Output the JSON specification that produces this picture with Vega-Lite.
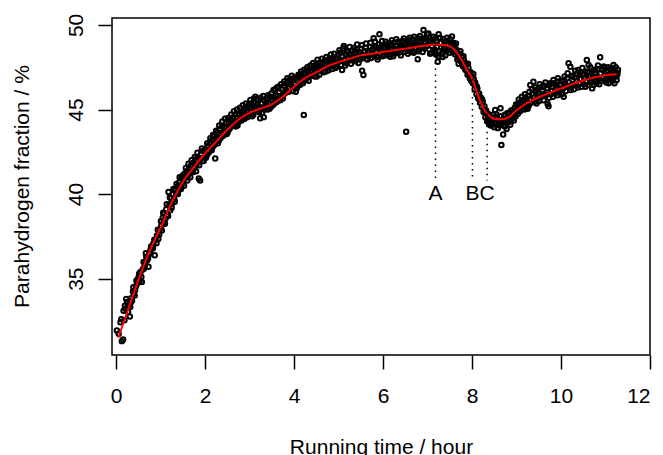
{
  "$schema": "https://vega.github.io/schema/vega-lite/v6.json",
  "width": 538,
  "height": 337,
  "autosize": {"type": "none"},
  "padding": {"left": 112, "top": 18, "right": 13, "bottom": 100},
  "background": "white",
  "datasets": {
    "pts": [
      {"t":0.02,"p":31.94},{"t":0.06,"p":31.75},{"t":0.10,"p":32.43},{"t":0.13,"p":31.31},{"t":0.16,"p":31.41},
      {"t":0.17,"p":33.10},{"t":0.19,"p":32.55},{"t":0.21,"p":33.23},{"t":0.23,"p":33.80},{"t":0.25,"p":33.62},
      {"t":0.27,"p":33.05},{"t":0.29,"p":33.45},{"t":0.31,"p":32.77},{"t":0.32,"p":33.32},{"t":0.34,"p":33.85},
      {"t":0.36,"p":33.70},{"t":0.38,"p":34.25},{"t":0.40,"p":34.11},{"t":0.43,"p":34.31},{"t":0.45,"p":34.55},
      {"t":0.47,"p":34.70},{"t":0.49,"p":34.95},{"t":0.51,"p":35.10},{"t":0.53,"p":34.85},{"t":0.55,"p":35.40},
      {"t":0.58,"p":34.80},{"t":0.60,"p":35.55},{"t":0.62,"p":35.99},{"t":0.64,"p":35.70},{"t":0.66,"p":35.95},
      {"t":0.68,"p":36.30},{"t":0.70,"p":36.09},{"t":0.73,"p":35.70},{"t":0.75,"p":36.55},{"t":0.77,"p":36.48},
      {"t":0.79,"p":36.90},{"t":0.81,"p":36.78},{"t":0.84,"p":37.07},{"t":0.87,"p":36.38},{"t":0.89,"p":37.30},
      {"t":0.92,"p":37.55},{"t":0.95,"p":37.35},{"t":0.98,"p":37.90},
      {"t":0.12,"p":32.6},{"t":0.20,"p":33.4},{"t":0.26,"p":33.3},{"t":0.33,"p":33.6},{"t":0.39,"p":34.5},
      {"t":0.42,"p":34.0},{"t":0.46,"p":34.9},{"t":0.52,"p":35.3},{"t":0.57,"p":35.1},{"t":0.63,"p":35.6},
      {"t":0.67,"p":36.5},{"t":0.72,"p":36.2},{"t":0.78,"p":36.75},{"t":0.83,"p":36.8},{"t":0.86,"p":37.3},
      {"t":0.91,"p":37.1},{"t":0.94,"p":37.9},{"t":0.97,"p":37.6},
      {"t":1.01,"p":38.40},{"t":1.03,"p":37.85},{"t":1.05,"p":38.60},{"t":1.07,"p":38.35},{"t":1.09,"p":38.85},
      {"t":1.11,"p":38.55},{"t":1.13,"p":39.10},{"t":1.15,"p":38.80},{"t":1.18,"p":40.13},{"t":1.20,"p":39.40},
      {"t":1.22,"p":39.05},{"t":1.24,"p":39.75},{"t":1.26,"p":39.45},{"t":1.28,"p":40.00},{"t":1.31,"p":39.70},
      {"t":1.33,"p":40.25},{"t":1.35,"p":40.05},{"t":1.38,"p":40.45},{"t":1.40,"p":40.20},{"t":1.42,"p":40.70},
      {"t":1.44,"p":40.40},{"t":1.47,"p":40.95},{"t":1.49,"p":40.60},{"t":1.51,"p":40.85},{"t":1.54,"p":41.20},
      {"t":1.56,"p":40.95},{"t":1.59,"p":41.35},{"t":1.61,"p":41.05},{"t":1.64,"p":41.50},{"t":1.66,"p":41.25},
      {"t":1.69,"p":41.70},{"t":1.71,"p":41.40},{"t":1.74,"p":41.85},{"t":1.76,"p":41.55},{"t":1.79,"p":42.05},
      {"t":1.81,"p":41.75},{"t":1.84,"p":42.20},{"t":1.86,"p":40.92},{"t":1.89,"p":40.80},{"t":1.91,"p":42.35},
      {"t":1.94,"p":41.95},{"t":1.96,"p":42.55},{"t":1.99,"p":42.20},
      {"t":1.02,"p":38.15},{"t":1.06,"p":38.9},{"t":1.10,"p":38.25},{"t":1.14,"p":39.4},{"t":1.17,"p":38.7},
      {"t":1.21,"p":39.8},{"t":1.25,"p":39.2},{"t":1.29,"p":40.3},{"t":1.32,"p":39.55},{"t":1.36,"p":40.6},
      {"t":1.39,"p":40.0},{"t":1.43,"p":41.0},{"t":1.46,"p":40.3},{"t":1.50,"p":41.1},{"t":1.53,"p":40.5},
      {"t":1.57,"p":41.55},{"t":1.60,"p":40.8},{"t":1.63,"p":41.8},{"t":1.67,"p":41.0},{"t":1.70,"p":42.0},
      {"t":1.73,"p":41.3},{"t":1.77,"p":42.2},{"t":1.80,"p":41.35},{"t":1.83,"p":42.45},{"t":1.87,"p":41.7},
      {"t":1.90,"p":42.1},{"t":1.93,"p":42.7},{"t":1.97,"p":41.95},
      {"t":2.01,"p":42.65},{"t":2.04,"p":42.30},{"t":2.06,"p":42.85},{"t":2.09,"p":42.55},{"t":2.11,"p":43.05},
      {"t":2.14,"p":42.70},{"t":2.16,"p":43.20},{"t":2.19,"p":42.85},{"t":2.21,"p":43.40},{"t":2.23,"p":42.10},
      {"t":2.26,"p":43.30},{"t":2.28,"p":43.65},{"t":2.31,"p":43.15},{"t":2.33,"p":43.85},{"t":2.36,"p":43.50},
      {"t":2.38,"p":44.00},{"t":2.41,"p":43.45},{"t":2.43,"p":43.95},{"t":2.46,"p":43.70},{"t":2.48,"p":44.20},
      {"t":2.51,"p":43.65},{"t":2.53,"p":44.25},{"t":2.56,"p":43.95},{"t":2.58,"p":44.40},{"t":2.61,"p":44.05},
      {"t":2.63,"p":44.55},{"t":2.66,"p":44.15},{"t":2.68,"p":44.70},{"t":2.71,"p":44.30},{"t":2.73,"p":44.05},
      {"t":2.76,"p":44.75},{"t":2.78,"p":44.40},{"t":2.81,"p":44.85},{"t":2.83,"p":44.50},{"t":2.86,"p":44.95},
      {"t":2.88,"p":44.60},{"t":2.91,"p":45.05},{"t":2.93,"p":44.70},{"t":2.96,"p":45.15},{"t":2.98,"p":44.65},
      {"t":2.02,"p":42.15},{"t":2.05,"p":43.0},{"t":2.08,"p":42.45},{"t":2.12,"p":43.3},{"t":2.15,"p":42.6},
      {"t":2.18,"p":43.5},{"t":2.22,"p":42.95},{"t":2.25,"p":43.75},{"t":2.29,"p":43.0},{"t":2.32,"p":44.05},
      {"t":2.35,"p":43.3},{"t":2.39,"p":44.3},{"t":2.42,"p":43.6},{"t":2.45,"p":44.45},{"t":2.49,"p":43.55},
      {"t":2.52,"p":44.5},{"t":2.55,"p":43.85},{"t":2.59,"p":44.7},{"t":2.62,"p":44.2},{"t":2.65,"p":44.9},
      {"t":2.69,"p":44.0},{"t":2.72,"p":45.0},{"t":2.75,"p":44.25},{"t":2.79,"p":45.1},{"t":2.82,"p":44.35},
      {"t":2.85,"p":45.25},{"t":2.89,"p":44.45},{"t":2.92,"p":45.35},{"t":2.95,"p":44.55},{"t":2.99,"p":45.3},
      {"t":3.01,"p":45.10},{"t":3.02,"p":45.56},{"t":3.04,"p":44.85},{"t":3.07,"p":45.25},{"t":3.09,"p":44.70},
      {"t":3.11,"p":45.40},{"t":3.13,"p":45.76},{"t":3.15,"p":44.95},{"t":3.18,"p":45.30},{"t":3.20,"p":45.55},
      {"t":3.22,"p":44.85},{"t":3.24,"p":44.48},{"t":3.27,"p":45.35},{"t":3.29,"p":45.10},{"t":3.32,"p":44.55},
      {"t":3.34,"p":45.50},{"t":3.36,"p":45.20},{"t":3.39,"p":45.65},{"t":3.41,"p":45.00},{"t":3.44,"p":45.40},
      {"t":3.46,"p":45.75},{"t":3.48,"p":45.15},{"t":3.51,"p":45.55},{"t":3.54,"p":46.15},{"t":3.56,"p":45.35},
      {"t":3.59,"p":45.80},{"t":3.62,"p":46.31},{"t":3.64,"p":45.60},{"t":3.67,"p":46.05},{"t":3.69,"p":45.55},
      {"t":3.72,"p":46.20},{"t":3.74,"p":45.80},{"t":3.77,"p":46.40},{"t":3.79,"p":45.95},{"t":3.82,"p":46.55},
      {"t":3.84,"p":46.10},{"t":3.87,"p":46.70},{"t":3.89,"p":46.25},{"t":3.92,"p":46.80},{"t":3.94,"p":46.45},
      {"t":3.97,"p":46.10},{"t":3.99,"p":46.85},
      {"t":3.03,"p":45.35},{"t":3.06,"p":44.6},{"t":3.10,"p":45.65},{"t":3.14,"p":45.05},{"t":3.17,"p":45.6},
      {"t":3.21,"p":45.15},{"t":3.25,"p":45.7},{"t":3.28,"p":44.8},{"t":3.31,"p":45.8},{"t":3.35,"p":45.0},
      {"t":3.38,"p":45.35},{"t":3.42,"p":45.85},{"t":3.45,"p":45.05},{"t":3.49,"p":45.95},{"t":3.52,"p":45.25},
      {"t":3.55,"p":45.7},{"t":3.58,"p":46.2},{"t":3.61,"p":45.45},{"t":3.65,"p":46.35},{"t":3.68,"p":45.75},
      {"t":3.71,"p":46.5},{"t":3.75,"p":45.65},{"t":3.78,"p":46.65},{"t":3.81,"p":46.0},{"t":3.85,"p":46.85},
      {"t":3.88,"p":46.05},{"t":3.91,"p":46.6},{"t":3.95,"p":47.0},{"t":3.98,"p":46.3},
      {"t":4.02,"p":46.50},{"t":4.04,"p":46.05},{"t":4.07,"p":46.90},{"t":4.09,"p":46.40},{"t":4.12,"p":46.95},
      {"t":4.14,"p":46.55},{"t":4.17,"p":47.10},{"t":4.19,"p":46.70},{"t":4.22,"p":44.67},{"t":4.24,"p":47.15},
      {"t":4.26,"p":46.75},{"t":4.29,"p":47.30},{"t":4.31,"p":46.90},{"t":4.34,"p":47.40},{"t":4.36,"p":47.05},
      {"t":4.39,"p":47.55},{"t":4.41,"p":47.00},{"t":4.44,"p":47.45},{"t":4.46,"p":47.20},{"t":4.49,"p":47.65},
      {"t":4.51,"p":46.95},{"t":4.54,"p":47.60},{"t":4.56,"p":47.30},{"t":4.59,"p":47.80},{"t":4.61,"p":47.35},
      {"t":4.64,"p":47.70},{"t":4.66,"p":47.45},{"t":4.69,"p":47.90},{"t":4.71,"p":47.25},{"t":4.74,"p":47.85},
      {"t":4.76,"p":47.50},{"t":4.79,"p":48.00},{"t":4.81,"p":47.55},{"t":4.84,"p":47.95},{"t":4.86,"p":47.40},
      {"t":4.89,"p":48.10},{"t":4.91,"p":47.70},{"t":4.94,"p":48.05},{"t":4.96,"p":47.55},{"t":4.99,"p":48.20},
      {"t":4.03,"p":46.85},{"t":4.06,"p":46.25},{"t":4.10,"p":47.05},{"t":4.13,"p":46.45},{"t":4.16,"p":47.25},
      {"t":4.20,"p":46.55},{"t":4.23,"p":47.35},{"t":4.27,"p":46.95},{"t":4.30,"p":47.5},{"t":4.33,"p":46.7},
      {"t":4.37,"p":47.6},{"t":4.40,"p":47.25},{"t":4.43,"p":47.75},{"t":4.47,"p":46.95},{"t":4.50,"p":47.5},
      {"t":4.53,"p":47.95},{"t":4.57,"p":47.05},{"t":4.60,"p":47.55},{"t":4.63,"p":48.0},{"t":4.67,"p":47.2},
      {"t":4.70,"p":47.65},{"t":4.73,"p":48.1},{"t":4.77,"p":47.3},{"t":4.80,"p":47.8},{"t":4.83,"p":48.25},
      {"t":4.87,"p":47.6},{"t":4.90,"p":48.3},{"t":4.93,"p":47.45},{"t":4.97,"p":48.0},
      {"t":5.01,"p":47.85},{"t":5.04,"p":48.35},{"t":5.06,"p":47.65},{"t":5.08,"p":47.34},{"t":5.11,"p":48.62},
      {"t":5.13,"p":47.95},{"t":5.16,"p":48.25},{"t":5.18,"p":47.75},{"t":5.21,"p":48.40},{"t":5.23,"p":47.90},
      {"t":5.26,"p":48.30},{"t":5.28,"p":47.70},{"t":5.31,"p":48.50},{"t":5.33,"p":48.05},{"t":5.36,"p":48.35},
      {"t":5.38,"p":47.85},{"t":5.41,"p":48.55},{"t":5.43,"p":48.10},{"t":5.46,"p":48.40},{"t":5.48,"p":47.95},
      {"t":5.51,"p":48.60},{"t":5.53,"p":47.30},{"t":5.56,"p":47.04},{"t":5.58,"p":48.20},{"t":5.61,"p":48.65},
      {"t":5.63,"p":48.00},{"t":5.66,"p":48.45},{"t":5.68,"p":48.15},{"t":5.71,"p":48.70},{"t":5.73,"p":48.05},
      {"t":5.76,"p":48.55},{"t":5.79,"p":49.21},{"t":5.81,"p":48.25},{"t":5.84,"p":48.70},{"t":5.86,"p":48.10},
      {"t":5.89,"p":48.60},{"t":5.92,"p":49.45},{"t":5.94,"p":48.30},{"t":5.97,"p":48.75},{"t":5.99,"p":48.15},
      {"t":5.02,"p":48.5},{"t":5.05,"p":47.85},{"t":5.09,"p":48.15},{"t":5.12,"p":48.75},{"t":5.15,"p":47.6},
      {"t":5.19,"p":48.45},{"t":5.22,"p":48.05},{"t":5.25,"p":48.7},{"t":5.29,"p":48.2},{"t":5.32,"p":47.9},
      {"t":5.35,"p":48.65},{"t":5.39,"p":48.25},{"t":5.42,"p":48.85},{"t":5.45,"p":47.75},{"t":5.49,"p":48.3},
      {"t":5.52,"p":48.8},{"t":5.55,"p":48.05},{"t":5.59,"p":48.45},{"t":5.62,"p":48.9},{"t":5.65,"p":47.95},
      {"t":5.69,"p":48.35},{"t":5.72,"p":48.95},{"t":5.75,"p":48.25},{"t":5.78,"p":48.6},{"t":5.82,"p":49.0},
      {"t":5.85,"p":48.4},{"t":5.88,"p":47.95},{"t":5.91,"p":48.85},{"t":5.95,"p":48.5},{"t":5.98,"p":49.05},
      {"t":6.02,"p":48.65},{"t":6.04,"p":48.20},{"t":6.07,"p":48.85},{"t":6.09,"p":48.35},{"t":6.12,"p":48.70},
      {"t":6.14,"p":48.25},{"t":6.16,"p":48.12},{"t":6.19,"p":48.80},{"t":6.21,"p":48.40},{"t":6.24,"p":48.95},
      {"t":6.26,"p":48.30},{"t":6.29,"p":48.75},{"t":6.31,"p":48.45},{"t":6.34,"p":49.00},{"t":6.36,"p":48.35},
      {"t":6.39,"p":48.80},{"t":6.41,"p":48.50},{"t":6.44,"p":49.05},{"t":6.46,"p":48.40},{"t":6.49,"p":48.85},
      {"t":6.52,"p":43.68},{"t":6.54,"p":48.55},{"t":6.57,"p":49.10},{"t":6.59,"p":48.45},{"t":6.62,"p":48.90},
      {"t":6.64,"p":48.60},{"t":6.67,"p":49.15},{"t":6.69,"p":48.35},{"t":6.72,"p":48.95},{"t":6.74,"p":48.65},
      {"t":6.78,"p":47.97},{"t":6.80,"p":49.20},{"t":6.82,"p":48.55},{"t":6.85,"p":49.00},{"t":6.88,"p":48.70},
      {"t":6.91,"p":49.70},{"t":6.93,"p":48.60},{"t":6.96,"p":49.25},{"t":6.98,"p":48.75},
      {"t":6.03,"p":48.4},{"t":6.06,"p":49.0},{"t":6.10,"p":48.55},{"t":6.13,"p":48.9},{"t":6.17,"p":48.6},
      {"t":6.20,"p":49.1},{"t":6.23,"p":48.15},{"t":6.27,"p":48.6},{"t":6.30,"p":49.15},{"t":6.33,"p":48.6},
      {"t":6.37,"p":48.95},{"t":6.40,"p":48.2},{"t":6.43,"p":48.7},{"t":6.47,"p":49.2},{"t":6.50,"p":48.65},
      {"t":6.53,"p":48.95},{"t":6.56,"p":48.3},{"t":6.60,"p":49.25},{"t":6.63,"p":48.75},{"t":6.66,"p":48.45},
      {"t":6.70,"p":49.3},{"t":6.73,"p":48.8},{"t":6.76,"p":49.05},{"t":6.79,"p":48.45},{"t":6.83,"p":49.35},
      {"t":6.86,"p":48.85},{"t":6.89,"p":48.4},{"t":6.92,"p":49.15},{"t":6.95,"p":48.9},{"t":6.99,"p":49.45},
      {"t":7.02,"p":49.50},{"t":7.04,"p":48.55},{"t":7.07,"p":49.10},{"t":7.09,"p":48.35},{"t":7.12,"p":48.95},
      {"t":7.14,"p":48.40},{"t":7.17,"p":49.20},{"t":7.19,"p":48.25},{"t":7.21,"p":48.70},{"t":7.23,"p":47.83},
      {"t":7.25,"p":49.45},{"t":7.27,"p":48.45},{"t":7.30,"p":48.95},{"t":7.32,"p":48.30},{"t":7.35,"p":49.15},
      {"t":7.37,"p":48.60},{"t":7.40,"p":48.20},{"t":7.42,"p":49.05},{"t":7.45,"p":48.50},{"t":7.47,"p":48.85},
      {"t":7.50,"p":48.35},{"t":7.52,"p":48.95},{"t":7.55,"p":49.31},{"t":7.57,"p":48.40},{"t":7.60,"p":48.80},
      {"t":7.62,"p":48.25},{"t":7.65,"p":48.55},{"t":7.67,"p":47.95},{"t":7.70,"p":47.70},{"t":7.72,"p":48.30},
      {"t":7.75,"p":47.85},{"t":7.77,"p":48.15},{"t":7.80,"p":47.55},{"t":7.82,"p":47.90},{"t":7.85,"p":47.35},
      {"t":7.87,"p":47.65},{"t":7.90,"p":47.05},{"t":7.92,"p":47.45},{"t":7.95,"p":46.85},{"t":7.97,"p":47.20},
      {"t":7.03,"p":49.0},{"t":7.06,"p":48.3},{"t":7.10,"p":48.75},{"t":7.13,"p":49.3},{"t":7.16,"p":48.55},
      {"t":7.20,"p":49.05},{"t":7.24,"p":48.15},{"t":7.28,"p":49.25},{"t":7.31,"p":48.65},{"t":7.34,"p":48.1},
      {"t":7.38,"p":49.0},{"t":7.41,"p":48.45},{"t":7.44,"p":49.25},{"t":7.48,"p":48.6},{"t":7.51,"p":49.15},
      {"t":7.54,"p":48.5},{"t":7.58,"p":48.95},{"t":7.61,"p":48.65},{"t":7.64,"p":48.9},{"t":7.68,"p":48.3},
      {"t":7.71,"p":48.05},{"t":7.74,"p":48.45},{"t":7.78,"p":47.65},{"t":7.81,"p":48.15},{"t":7.84,"p":47.75},
      {"t":7.88,"p":47.3},{"t":7.91,"p":47.7},{"t":7.94,"p":47.1},{"t":7.98,"p":46.7},
      {"t":8.00,"p":46.95},{"t":8.02,"p":46.55},{"t":8.04,"p":46.80},{"t":8.06,"p":46.20},{"t":8.08,"p":46.45},
      {"t":8.10,"p":45.90},{"t":8.12,"p":46.25},{"t":8.14,"p":45.65},{"t":8.16,"p":45.95},{"t":8.18,"p":45.40},
      {"t":8.20,"p":45.70},{"t":8.22,"p":45.15},{"t":8.24,"p":45.45},{"t":8.26,"p":44.85},{"t":8.28,"p":45.20},
      {"t":8.30,"p":44.55},{"t":8.32,"p":44.95},{"t":8.34,"p":44.30},{"t":8.36,"p":44.75},{"t":8.38,"p":44.15},
      {"t":8.40,"p":44.60},{"t":8.42,"p":44.05},{"t":8.44,"p":44.45},{"t":8.46,"p":44.10},{"t":8.48,"p":44.70},
      {"t":8.50,"p":43.95},{"t":8.52,"p":44.97},{"t":8.54,"p":44.25},{"t":8.56,"p":44.55},{"t":8.58,"p":43.90},
      {"t":8.60,"p":44.35},{"t":8.62,"p":44.05},{"t":8.64,"p":45.07},{"t":8.66,"p":42.90},{"t":8.68,"p":44.20},
      {"t":8.70,"p":43.53},{"t":8.72,"p":44.65},{"t":8.74,"p":44.00},{"t":8.76,"p":44.40},{"t":8.78,"p":43.85},
      {"t":8.80,"p":44.80},{"t":8.82,"p":44.25},{"t":8.84,"p":44.55},{"t":8.86,"p":44.10},{"t":8.88,"p":44.95},
      {"t":8.90,"p":44.45},{"t":8.92,"p":44.80},{"t":8.94,"p":44.35},{"t":8.96,"p":45.10},{"t":8.98,"p":44.60},
      {"t":8.03,"p":47.1},{"t":8.07,"p":46.6},{"t":8.11,"p":46.35},{"t":8.15,"p":45.8},{"t":8.19,"p":45.55},
      {"t":8.23,"p":45.6},{"t":8.27,"p":45.0},{"t":8.31,"p":44.8},{"t":8.35,"p":44.45},{"t":8.39,"p":44.35},
      {"t":8.43,"p":44.25},{"t":8.47,"p":44.5},{"t":8.51,"p":44.2},{"t":8.55,"p":44.7},{"t":8.59,"p":44.15},
      {"t":8.63,"p":44.6},{"t":8.67,"p":44.35},{"t":8.71,"p":44.05},{"t":8.75,"p":44.7},{"t":8.79,"p":44.3},
      {"t":8.83,"p":44.75},{"t":8.87,"p":44.6},{"t":8.91,"p":44.95},{"t":8.95,"p":44.7},{"t":8.99,"p":45.3},
      {"t":9.01,"p":45.25},{"t":9.03,"p":44.75},{"t":9.06,"p":45.35},{"t":9.08,"p":44.90},{"t":9.11,"p":45.50},
      {"t":9.13,"p":45.05},{"t":9.16,"p":45.60},{"t":9.18,"p":45.00},{"t":9.21,"p":45.70},{"t":9.23,"p":45.15},
      {"t":9.26,"p":45.80},{"t":9.28,"p":45.25},{"t":9.31,"p":46.45},{"t":9.33,"p":45.40},{"t":9.36,"p":45.95},
      {"t":9.38,"p":46.64},{"t":9.41,"p":45.45},{"t":9.43,"p":46.05},{"t":9.46,"p":45.60},{"t":9.48,"p":46.20},
      {"t":9.51,"p":45.50},{"t":9.53,"p":46.30},{"t":9.56,"p":45.75},{"t":9.58,"p":46.15},{"t":9.61,"p":45.55},
      {"t":9.63,"p":46.40},{"t":9.66,"p":45.85},{"t":9.68,"p":46.25},{"t":9.70,"p":45.32},{"t":9.72,"p":45.20},
      {"t":9.74,"p":46.45},{"t":9.77,"p":45.90},{"t":9.79,"p":46.35},{"t":9.82,"p":45.75},{"t":9.84,"p":46.55},
      {"t":9.87,"p":46.05},{"t":9.89,"p":46.45},{"t":9.92,"p":45.85},{"t":9.94,"p":46.65},{"t":9.97,"p":46.15},
      {"t":9.99,"p":46.50},
      {"t":9.02,"p":44.95},{"t":9.05,"p":45.6},{"t":9.09,"p":45.2},{"t":9.12,"p":45.75},{"t":9.15,"p":45.3},
      {"t":9.19,"p":45.9},{"t":9.22,"p":45.35},{"t":9.25,"p":45.05},{"t":9.29,"p":46.05},{"t":9.32,"p":45.6},
      {"t":9.35,"p":46.2},{"t":9.39,"p":45.7},{"t":9.42,"p":46.3},{"t":9.45,"p":45.35},{"t":9.49,"p":45.95},
      {"t":9.52,"p":46.5},{"t":9.55,"p":45.8},{"t":9.59,"p":46.35},{"t":9.62,"p":45.9},{"t":9.65,"p":46.6},
      {"t":9.69,"p":46.0},{"t":9.73,"p":45.7},{"t":9.76,"p":46.55},{"t":9.80,"p":46.1},{"t":9.83,"p":46.75},
      {"t":9.86,"p":45.95},{"t":9.90,"p":46.3},{"t":9.93,"p":46.85},{"t":9.96,"p":46.0},
      {"t":10.02,"p":45.90},{"t":10.04,"p":46.70},{"t":10.06,"p":45.75},{"t":10.09,"p":46.55},{"t":10.11,"p":46.10},
      {"t":10.14,"p":46.85},{"t":10.17,"p":47.73},{"t":10.19,"p":46.30},{"t":10.21,"p":47.53},{"t":10.24,"p":46.45},
      {"t":10.26,"p":47.00},{"t":10.29,"p":46.20},{"t":10.31,"p":46.90},{"t":10.34,"p":46.40},{"t":10.36,"p":47.10},
      {"t":10.39,"p":47.34},{"t":10.41,"p":46.55},{"t":10.44,"p":47.20},{"t":10.46,"p":46.35},{"t":10.49,"p":47.05},
      {"t":10.51,"p":46.50},{"t":10.54,"p":47.25},{"t":10.56,"p":46.65},{"t":10.58,"p":47.93},{"t":10.61,"p":46.45},
      {"t":10.62,"p":47.63},{"t":10.65,"p":47.00},{"t":10.67,"p":46.60},{"t":10.70,"p":46.25},{"t":10.72,"p":47.30},
      {"t":10.75,"p":46.70},{"t":10.77,"p":47.15},{"t":10.80,"p":46.55},{"t":10.82,"p":47.40},{"t":10.85,"p":46.85},
      {"t":10.88,"p":48.09},{"t":10.90,"p":46.70},{"t":10.93,"p":47.35},{"t":10.95,"p":46.90},{"t":10.98,"p":47.45},
      {"t":11.00,"p":46.75},{"t":11.03,"p":47.25},{"t":11.05,"p":46.95},{"t":11.07,"p":46.55},{"t":11.10,"p":47.40},
      {"t":11.12,"p":46.85},{"t":11.15,"p":47.30},{"t":11.18,"p":47.63},{"t":11.20,"p":46.55},{"t":11.22,"p":47.20},
      {"t":11.24,"p":46.95},{"t":11.26,"p":47.04},{"t":11.28,"p":47.35},
      {"t":10.01,"p":46.65},{"t":10.05,"p":46.25},{"t":10.08,"p":46.95},{"t":10.12,"p":46.4},{"t":10.15,"p":47.15},
      {"t":10.18,"p":46.6},{"t":10.22,"p":46.15},{"t":10.25,"p":46.95},{"t":10.28,"p":46.5},{"t":10.32,"p":47.3},
      {"t":10.35,"p":46.65},{"t":10.38,"p":46.3},{"t":10.42,"p":47.05},{"t":10.45,"p":46.8},{"t":10.48,"p":47.45},
      {"t":10.52,"p":46.85},{"t":10.55,"p":46.35},{"t":10.59,"p":47.2},{"t":10.63,"p":46.9},{"t":10.66,"p":47.5},
      {"t":10.69,"p":46.7},{"t":10.73,"p":46.45},{"t":10.76,"p":47.35},{"t":10.79,"p":46.95},{"t":10.83,"p":47.6},
      {"t":10.86,"p":46.5},{"t":10.89,"p":47.15},{"t":10.92,"p":46.85},{"t":10.96,"p":47.55},{"t":10.99,"p":47.1},
      {"t":11.02,"p":46.6},{"t":11.06,"p":47.5},{"t":11.09,"p":47.0},{"t":11.13,"p":47.45},{"t":11.16,"p":46.7},
      {"t":11.19,"p":47.3},{"t":11.23,"p":47.5},{"t":11.25,"p":46.75},{"t":11.27,"p":47.15}
    ],
    "fit": [
      {"t":0.05,"p":31.5},{"t":0.25,"p":33.0},{"t":0.5,"p":34.9},{"t":0.75,"p":36.6},{"t":1.0,"p":38.0},
      {"t":1.25,"p":39.5},{"t":1.5,"p":40.7},{"t":1.75,"p":41.6},{"t":2.0,"p":42.4},{"t":2.25,"p":43.1},
      {"t":2.5,"p":43.8},{"t":2.75,"p":44.4},{"t":3.0,"p":44.8},{"t":3.25,"p":45.05},{"t":3.5,"p":45.3},
      {"t":3.75,"p":45.75},{"t":4.0,"p":46.35},{"t":4.25,"p":46.85},{"t":4.5,"p":47.2},{"t":4.75,"p":47.55},
      {"t":5.0,"p":47.8},{"t":5.25,"p":48.0},{"t":5.5,"p":48.2},{"t":5.75,"p":48.3},{"t":6.0,"p":48.4},
      {"t":6.25,"p":48.5},{"t":6.5,"p":48.6},{"t":6.75,"p":48.7},{"t":7.0,"p":48.8},{"t":7.25,"p":48.85},
      {"t":7.5,"p":48.75},{"t":7.6,"p":48.55},{"t":7.75,"p":48.0},{"t":7.9,"p":47.3},{"t":8.0,"p":46.85},
      {"t":8.1,"p":46.1},{"t":8.2,"p":45.4},{"t":8.3,"p":44.9},{"t":8.4,"p":44.6},{"t":8.5,"p":44.45},
      {"t":8.65,"p":44.42},{"t":8.8,"p":44.5},{"t":8.9,"p":44.7},{"t":9.0,"p":44.95},{"t":9.25,"p":45.4},
      {"t":9.5,"p":45.72},{"t":9.75,"p":46.0},{"t":10.0,"p":46.25},{"t":10.25,"p":46.5},{"t":10.5,"p":46.72},
      {"t":10.75,"p":46.9},{"t":11.0,"p":47.02},{"t":11.25,"p":47.08}
    ],
    "events": [
      {"label":"A","t":7.18,"p":48.85},
      {"label":"B","t":8.01,"p":46.8},
      {"label":"C","t":8.34,"p":44.75}
    ]
  },
  "encoding": {
    "x": {
      "field": "t", "type": "quantitative",
      "scale": {"domain": [-0.09, 12.0], "nice": false, "zero": false},
      "axis": {
        "title": "Running time / hour",
        "values": [0, 2, 4, 6, 8, 10, 12],
        "labelBaseline": "alphabetic",
        "labelPadding": 33,
        "titleX": 269,
        "titleY": 98,
        "titleAlign": "center",
        "titleBaseline": "alphabetic"
      }
    },
    "y": {
      "field": "p", "type": "quantitative",
      "scale": {"domain": [30.49, 50.41], "nice": false, "zero": false},
      "axis": {
        "title": "Parahydrogen fraction / %",
        "values": [35, 40, 45, 50],
        "labelAngle": 270,
        "labelAlign": "center",
        "labelBaseline": "alphabetic",
        "labelPadding": 16,
        "titleAngle": 270,
        "titleX": -84,
        "titleY": 168,
        "titleAlign": "center",
        "titleBaseline": "alphabetic"
      }
    }
  },
  "layer": [
    {
      "data": {"name": "pts"},
      "mark": {"type": "point", "shape": "circle", "filled": false, "color": "black", "strokeWidth": 2, "size": 20, "opacity": 1}
    },
    {
      "data": {"name": "fit"},
      "mark": {"type": "line", "color": "#ff0000", "strokeWidth": 2, "interpolate": "monotone"}
    },
    {
      "data": {"name": "events"},
      "mark": {"type": "rule", "color": "black", "strokeWidth": 1.5, "strokeDash": [1.5, 4.5]},
      "encoding": {"y2": {"datum": 40.8}}
    },
    {
      "data": {"name": "events"},
      "mark": {"type": "text", "color": "black", "fontSize": 21, "font": "Liberation Sans", "baseline": "middle", "align": "center"},
      "encoding": {"y": {"datum": 40}, "text": {"field": "label"}}
    }
  ],
  "config": {
    "font": "Liberation Sans",
    "view": {"stroke": "black", "strokeWidth": 1.5},
    "axis": {
      "grid": false,
      "domain": false,
      "ticks": true,
      "tickColor": "black",
      "tickWidth": 1.5,
      "tickSize": 14,
      "labelFont": "Liberation Sans",
      "labelFontSize": 21,
      "labelColor": "black",
      "titleFont": "Liberation Sans",
      "titleFontSize": 21,
      "titleFontWeight": "normal",
      "titleColor": "black"
    }
  }
}
